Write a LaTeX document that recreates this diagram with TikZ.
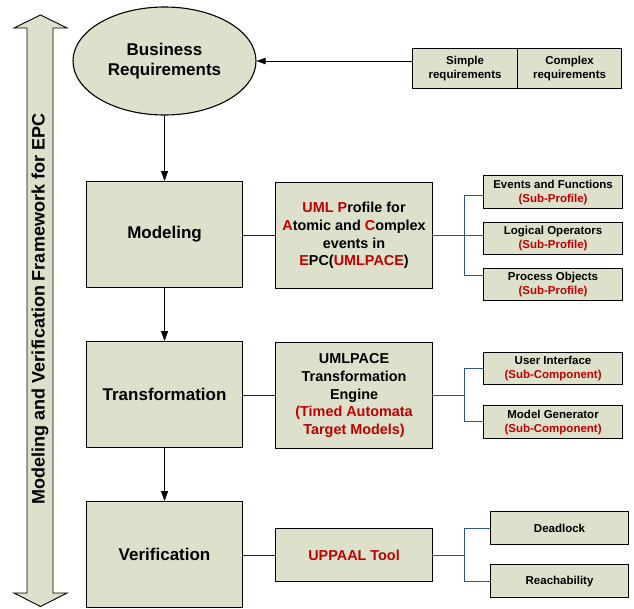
\documentclass[tikz,border=0pt]{standalone}
\usepackage{fontspec}
\setmainfont{Liberation Sans}
\usetikzlibrary{arrows.meta,shapes.geometric}

\definecolor{boxfill}{HTML}{DDE0CA}
\definecolor{txtred}{HTML}{C00000}
\definecolor{linkblue}{HTML}{2F5597}

\newcommand{\rd}[1]{\textcolor{txtred}{#1}}

\begin{document}
\begin{tikzpicture}[x=1pt,y=-1pt,
  box/.style={draw=black, line width=1.1pt, fill=boxfill, align=center,
    inner sep=0pt, anchor=north west},
  bigtxt/.style={font=\fontsize{17}{20}\selectfont\bfseries},
  midtxt/.style={font=\fontsize{14.4}{17.7}\selectfont\bfseries},
  smalltxt/.style={font=\fontsize{11.5}{14}\selectfont\bfseries},
  flow/.style={draw=black, line width=0.8pt, -{Triangle[length=10pt,width=7pt]}},
  plain/.style={draw=black!85, line width=0.9pt},
  link/.style={draw=linkblue, line width=1pt}]
\useasboundingbox (0,0) rectangle (634,608);

% framework double arrow
\draw[fill=boxfill, line width=0.9pt, line join=miter]
  (27,28) -- (14,28) -- (40.5,15) -- (67,28) -- (53,28) -- (53,593)
  -- (67,593) -- (40.5,606.5) -- (14,593) -- (27,593) -- cycle;
\node[rotate=90, font=\fontsize{18}{18}\selectfont\bfseries] (framework)
  at (40,309) {Modeling and Verification Framework for EPC};

% main column
\node[ellipse, draw=black, line width=1.1pt, fill=boxfill, minimum width=183pt,
  minimum height=108pt, inner sep=0pt, align=center, bigtxt] (biz)
  at (164.5,61) {Business\\Requirements};
\node[box, bigtxt, minimum width=156pt, minimum height=106pt] (model) at (86,181) {Modeling};
\node[box, bigtxt, minimum width=156pt, minimum height=106pt] (trans) at (86,341) {Transformation};
\node[box, bigtxt, minimum width=156pt, minimum height=106pt] (verif) at (86,501) {Verification};

\draw[flow] (biz.south) -- (model.north);
\draw[flow] (model.south) -- (trans.north);
\draw[flow] (trans.south) -- (verif.north);

% requirement kinds
\node[box, smalltxt, minimum width=105pt, minimum height=40pt] (simple) at (412,48) {Simple\\requirements};
\node[box, smalltxt, minimum width=104pt, minimum height=40pt] (complex) at (517,48) {Complex\\requirements};
\draw[draw=black, line width=0.8pt, -{Triangle[length=9pt,width=6.5pt]}]
  (simple.west |- biz.east) -- (biz.east);

% middle column
\node[box, midtxt, minimum width=157pt, minimum height=106pt] (uml) at (275,182)
  {\rd{UML P}rofile for\\\rd{A}tomic and \rd{C}omplex\\events in\\\rd{E}PC(\rd{UMLPACE})};
\node[box, midtxt, minimum width=157pt, minimum height=106pt] (engine) at (275,342)
  {UMLPACE\\Transformation\\Engine\\\rd{(Timed Automata}\\\rd{Target Models)}};
\node[box, midtxt, minimum width=157pt, minimum height=53pt] (uppaal) at (275,528)
  {\rd{UPPAAL Tool}};

\draw[plain] (model.east |- uml.west) -- (uml.west);
\draw[plain] (trans.east |- engine.west) -- (engine.west);
\draw[plain] (verif.east |- uppaal.west) -- (uppaal.west);

% profile parts
\node[box, smalltxt, minimum width=139pt, minimum height=33pt] (evf) at (483,175)
  {Events and Functions\\\rd{(Sub-Profile)}};
\node[box, smalltxt, minimum width=139pt, minimum height=32pt] (logop) at (483,222)
  {Logical Operators\\\rd{(Sub-Profile)}};
\node[box, smalltxt, minimum width=139pt, minimum height=32pt] (pobj) at (483,268)
  {Process Objects\\\rd{(Sub-Profile)}};
\coordinate (ja) at (464,195);
\coordinate (jb) at (464,235);
\coordinate (jc) at (464,275);
\draw[link] (uml.east) -- (uml.east -| jb) -- (uml.east -| logop.west);
\draw[link] (ja -| evf.west) -- (ja) -- (jc) -- (jc -| pobj.west);

% engine parts
\node[box, smalltxt, minimum width=139pt, minimum height=32pt] (ui) at (483,352)
  {User Interface\\\rd{(Sub-Component)}};
\node[box, smalltxt, minimum width=139pt, minimum height=33pt] (mgen) at (483,405)
  {Model Generator\\\rd{(Sub-Component)}};
\coordinate (jd) at (464,368);
\coordinate (je) at (464,421);
\draw[link] (engine.east) -- (engine.east -| jd);
\draw[link] (jd -| ui.west) -- (jd) -- (je) -- (je -| mgen.west);

% verification properties
\node[box, smalltxt, minimum width=138pt, minimum height=33pt] (dead) at (490,511) {Deadlock};
\node[box, smalltxt, minimum width=138pt, minimum height=33pt] (reach) at (490,564) {Reachability};
\coordinate (jf) at (464,528);
\coordinate (jg) at (464,581);
\draw[link] (uppaal.east) -- (uppaal.east -| jf);
\draw[link] (jf -| dead.west) -- (jf) -- (jg) -- (jg -| reach.west);
\end{tikzpicture}
\end{document}
